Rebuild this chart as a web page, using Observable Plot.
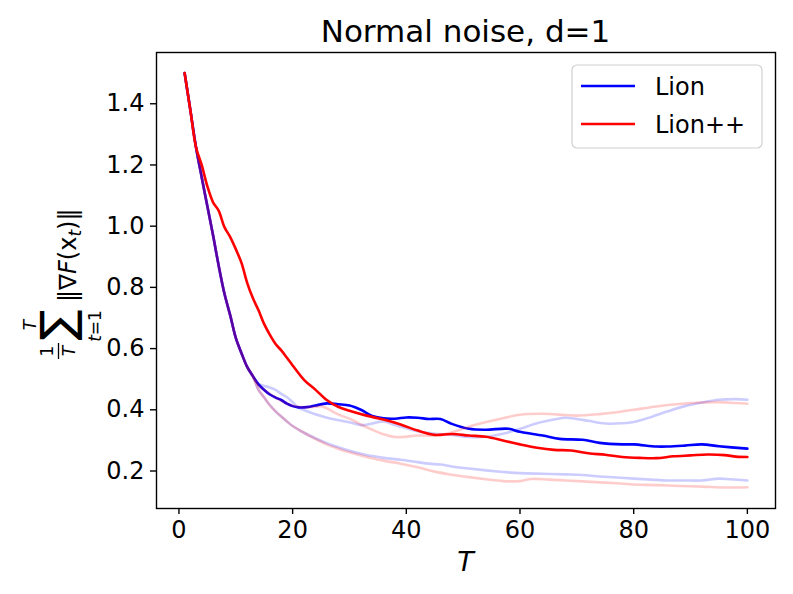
<!DOCTYPE html>
<html><head><meta charset="utf-8">
<script src="https://cdn.jsdelivr.net/npm/d3@7"></script>
<script src="https://cdn.jsdelivr.net/npm/@observablehq/plot@0.6"></script>
<style>body{margin:0;background:#fff} svg{font-family:"DejaVu Sans"}</style>
</head><body><div id="chart"></div>
<script>
// ---- data ----
const xTicks = [0, 20, 40, 60, 80, 100];
const yTicks = [0.2, 0.4, 0.6, 0.8, 1.0, 1.2, 1.4];
const legendNames = ["Lion", "Lion++"];
const titleText = "Normal noise, d=1";

// Lion (mean)
const lionT = [1,2,3,4,5,6,7,8,9,10,11,12,13,14,15,16,17,18,19,20,21,22,23,24,26,28,30,32,34,36,38,40,42,44,46,48,51,54,58,60,64,67,71,74,78,80,84,86,89,92,95,100];
const lionV = [1.5,1.38,1.258,1.16,1.065,0.97,0.87,0.78,0.71,0.635,0.585,0.54,0.51,0.483,0.465,0.45,0.44,0.432,0.42,0.412,0.408,0.408,0.41,0.414,0.421,0.418,0.414,0.400,0.380,0.372,0.371,0.375,0.374,0.370,0.370,0.354,0.338,0.335,0.338,0.328,0.316,0.305,0.302,0.292,0.287,0.287,0.280,0.280,0.283,0.287,0.281,0.273];

// Lion++ (mean)
const lionppT = [1,2,3,4,5,6,7,8,9,10,11,12,13,14,15,16,17,18,19,20,22,24,26,28,30,33,36,39,42,45,48,51,54,57,60,63,66,69,72,75,78,81,84,87,90,93,96,98,100];
const lionppV = [1.5,1.38,1.258,1.20,1.13,1.078,1.05,0.997,0.965,0.925,0.88,0.815,0.765,0.725,0.68,0.645,0.615,0.594,0.57,0.545,0.498,0.466,0.432,0.41,0.397,0.381,0.368,0.352,0.332,0.318,0.321,0.316,0.312,0.300,0.287,0.276,0.269,0.267,0.258,0.253,0.246,0.243,0.242,0.248,0.251,0.254,0.252,0.247,0.246];

// Lion individual runs (faint)
const lionRun1T = [1,2,3,4,5,6,7,8,9,10,11,12,13,14,15,16,17,18,19,20,21,23,25,27,30,32,34,36,38,40,42,45,48,51,54,57,60,63,66,68,70,72,75,78,80,83,86,89,92,95,98,100];
const lionRun1V = [1.5,1.38,1.258,1.16,1.065,0.97,0.87,0.78,0.71,0.635,0.585,0.54,0.51,0.485,0.478,0.473,0.465,0.452,0.441,0.425,0.408,0.392,0.380,0.370,0.359,0.350,0.355,0.362,0.350,0.340,0.330,0.322,0.318,0.311,0.312,0.322,0.338,0.356,0.368,0.374,0.370,0.364,0.355,0.356,0.360,0.376,0.395,0.412,0.424,0.433,0.435,0.433];
const lionRun2T = [1,2,3,4,5,6,7,8,9,10,11,12,13,14,15,16,17,18,19,20,22,24,26,28,30,33,36,39,42,44,46,48,51,54,57,60,64,68,71,74,77,80,83,86,89,92,95,97,100];
const lionRun2V = [1.5,1.38,1.258,1.16,1.065,0.97,0.87,0.78,0.71,0.635,0.585,0.54,0.51,0.465,0.44,0.415,0.395,0.378,0.362,0.347,0.325,0.307,0.291,0.278,0.266,0.252,0.243,0.237,0.229,0.224,0.221,0.215,0.208,0.202,0.197,0.193,0.191,0.189,0.187,0.182,0.179,0.175,0.172,0.169,0.169,0.169,0.175,0.173,0.169];

// Lion++ individual runs (faint)
const lionppRun1T = [1,2,3,4,5,6,7,8,9,10,11,12,13,14,15,16,17,18,19,20,22,24,25,26,28,30,32,34,36,38,40,42,45,48,51,53,56,60,64,68,70,74,77,80,84,88,92,95,98,100];
const lionppRun1V = [1.5,1.38,1.258,1.16,1.065,0.97,0.87,0.78,0.71,0.635,0.585,0.54,0.51,0.48,0.465,0.452,0.44,0.43,0.42,0.413,0.408,0.41,0.412,0.405,0.385,0.371,0.352,0.335,0.32,0.311,0.312,0.316,0.316,0.326,0.345,0.355,0.368,0.384,0.387,0.383,0.381,0.386,0.392,0.400,0.411,0.419,0.424,0.425,0.422,0.420];
const lionppRun2T = [1,2,3,4,5,6,7,8,9,10,11,12,13,14,15,16,17,18,19,20,22,24,26,28,30,33,36,39,42,45,48,51,54,57,60,62,65,68,71,74,77,80,84,88,92,96,100];
const lionppRun2V = [1.5,1.38,1.258,1.16,1.065,0.97,0.87,0.78,0.71,0.635,0.585,0.54,0.51,0.465,0.44,0.415,0.395,0.378,0.362,0.347,0.325,0.305,0.287,0.273,0.261,0.246,0.234,0.224,0.212,0.198,0.188,0.180,0.173,0.167,0.167,0.174,0.172,0.169,0.166,0.163,0.160,0.156,0.154,0.151,0.149,0.146,0.147];

// ---- chart ----
const BLUE = "#0000ff", RED = "#ff0000";
const series = [
  {T: lionRun1T, V: lionRun1V, color: BLUE, op: 0.2},
  {T: lionRun2T, V: lionRun2V, color: BLUE, op: 0.2},
  {T: lionT, V: lionV, color: BLUE, op: 1},
  {T: lionppRun1T, V: lionppRun1V, color: RED, op: 0.2},
  {T: lionppRun2T, V: lionppRun2V, color: RED, op: 0.2},
  {T: lionppT, V: lionppV, color: RED, op: 1}
];
const lineMarks = series.map(s => Plot.line(
  s.T.map((t, j) => ({T: t, v: s.V[j]})),
  {x: "T", y: "v", stroke: s.color, strokeOpacity: s.op, strokeWidth: 2.6, curve: "catmull-rom"}
));

const chart = Plot.plot({
  width: 793, height: 594,
  marginLeft: 156, marginRight: 18, marginTop: 52, marginBottom: 86,
  style: {fontFamily: "DejaVu Sans", fontSize: "24px", background: "white", color: "black", overflow: "visible"},
  x: {domain: [-3.95, 104.95]},
  y: {domain: [0.0775, 1.5675]},
  marks: [
    ...lineMarks,
    Plot.frame({stroke: "black", strokeWidth: 1.4}),
    Plot.axisX({ticks: xTicks, tickSize: 6, tickPadding: 6, fontSize: 24, label: null, strokeWidth: 1.4}),
    Plot.axisY({ticks: yTicks, tickSize: 6, tickPadding: 6, fontSize: 24, label: null, strokeWidth: 1.4, tickFormat: d3.format(".1f")})
  ]
});

const svg = d3.select(chart);
// title
svg.append("text").attr("x", 465.5).attr("y", 42).attr("text-anchor", "middle")
  .attr("font-size", 31).attr("fill", "black").text(titleText);
// x label
svg.append("text").attr("x", 465.5).attr("y", 571).attr("text-anchor", "middle")
  .attr("font-size", 27).attr("font-style", "italic").attr("fill", "black").text("T");

// y label (math)
const g = svg.append("g").attr("transform", "translate(0,280) rotate(-90)").attr("fill", "black");
g.append("text").attr("x", -71).attr("y", 53).attr("text-anchor", "middle").attr("font-size", 17).text("1");
g.append("line").attr("x1", -79).attr("x2", -63).attr("y1", 58.5).attr("y2", 58.5).attr("stroke", "black").attr("stroke-width", 1.3);
g.append("text").attr("x", -71).attr("y", 75).attr("text-anchor", "middle").attr("font-size", 17).attr("font-style", "italic").text("T");
g.append("text").attr("x", -45).attr("y", 73).attr("text-anchor", "middle").attr("font-size", 46).text("\u2211");
g.append("text").attr("x", -45).attr("y", 36).attr("text-anchor", "middle").attr("font-size", 17).attr("font-style", "italic").text("T");
const sub = g.append("text").attr("x", -46).attr("y", 101).attr("text-anchor", "middle").attr("font-size", 17);
sub.append("tspan").attr("font-style", "italic").text("t");
sub.append("tspan").text("=1");
const nrm = g.append("text").attr("x", -22).attr("y", 76).attr("text-anchor", "start").attr("font-size", 24);
nrm.append("tspan").text("\u2016\u2207");
nrm.append("tspan").attr("font-style", "italic").text("F");
nrm.append("tspan").text("(x");
nrm.append("tspan").attr("font-style", "italic").attr("font-size", 17).attr("dy", 5).text("t");
nrm.append("tspan").attr("dy", -5).text(")\u2016");

// legend
const lg = svg.append("g");
lg.append("rect").attr("x", 572).attr("y", 65).attr("width", 190).attr("height", 83).attr("rx", 5)
  .attr("fill", "white").attr("fill-opacity", 0.8).attr("stroke", "#d0d0d0").attr("stroke-width", 1.2);
[[BLUE, 86, 95], [RED, 124, 133]].forEach(([c, yl, yt], i) => {
  lg.append("line").attr("x1", 581).attr("x2", 635).attr("y1", yl).attr("y2", yl).attr("stroke", c).attr("stroke-width", 2.6);
  lg.append("text").attr("x", 655).attr("y", yt).attr("text-anchor", "start").attr("font-size", 24).attr("fill", "black").text(legendNames[i]);
});

document.getElementById("chart").appendChild(chart);
</script>
</body></html>
